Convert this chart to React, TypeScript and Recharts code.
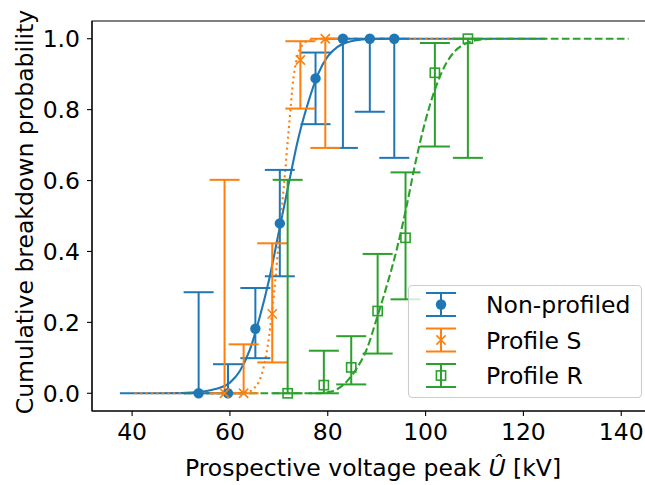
import {
  ComposedChart,
  ErrorBar,
  Legend,
  Line,
  ReferenceArea,
  Scatter,
  XAxis,
  YAxis,
} from "recharts";

const BLUE = "#1f77b4";
const ORANGE = "#ff7f0e";
const GREEN = "#2ca02c";
const FONT = "'DejaVu Sans', sans-serif";
const FS = 23.5;

// measured breakdown probabilities with confidence limits
const nonProfiledU = [53.6, 59.6, 65.2, 70.2, 77.5, 83.1, 88.6, 93.6];
const nonProfiledP = [0, 0, 0.182, 0.479, 0.888, 1, 1, 1];
const nonProfiledLo = [0, 0, 0.099, 0.33, 0.759, 0.692, 0.794, 0.664];
const nonProfiledHi = [0.285, 0.082, 0.297, 0.63, 0.961, 1, 1, 1];

const profileSU = [58.9, 62.8, 68.65, 74.4, 79.5];
const profileSP = [0, 0, 0.224, 0.94, 1];
const profileSLo = [0, 0, 0.087, 0.803, 0.692];
const profileSHi = [0.602, 0.138, 0.423, 0.993, 1];

const profileRU = [71.8, 79.2, 84.8, 90.2, 95.9, 101.9, 108.65];
const profileRP = [0, 0.023, 0.073, 0.232, 0.4385, 0.904, 1];
const profileRLo = [0, 0, 0.025, 0.112, 0.265, 0.696, 0.664];
const profileRHi = [0.602, 0.12, 0.161, 0.393, 0.623, 0.988, 1];

// fitted curves
const fitNonProfiledU = [37.5, 45, 50, 54, 57, 60, 62, 64, 66, 68, 70, 72, 74, 76, 78, 80, 82, 84, 86, 88, 92, 100, 124.5];
const fitNonProfiledP = [0, 0, 0.0005, 0.004, 0.012, 0.03, 0.062, 0.12, 0.21, 0.32, 0.455, 0.59, 0.72, 0.82, 0.9, 0.95, 0.977, 0.99, 0.996, 0.999, 1, 1, 1];

const fitProfileSU = [40.5, 55, 62, 64, 65, 66, 67, 68, 69, 70, 71, 72, 73, 74, 75, 76, 78, 80, 106];
const fitProfileSP = [0, 0, 0, 0.005, 0.015, 0.035, 0.08, 0.16, 0.28, 0.43, 0.58, 0.74, 0.89, 0.96, 0.985, 0.995, 0.999, 1, 1];

const fitProfileRU = [50.5, 70, 78, 80, 82, 84, 86, 88, 90, 92, 94, 96, 98, 100, 102, 104, 106, 108, 110, 114, 120, 141.5];
const fitProfileRP = [0, 0, 0, 0.003, 0.012, 0.035, 0.072, 0.125, 0.21, 0.3, 0.4, 0.52, 0.655, 0.77, 0.86, 0.925, 0.965, 0.985, 0.995, 1, 1, 1];

const xTicks = [40, 60, 80, 100, 120, 140];
const yTicks = [0, 0.2, 0.4, 0.6, 0.8, 1];
const xDomain = [31.8, 146.7];
const yDomain = [-0.05, 1.05];

const legendNames = ["Non-profiled", "Profile S", "Profile R"];

const toPoints = (u: number[], p: number[], lo: number[], hi: number[]) =>
  u.map((x, i) => ({ x, y: p[i], err: [p[i] - lo[i], hi[i] - p[i]] }));
const toCurve = (u: number[], p: number[]) => u.map((x, i) => ({ x, y: p[i] }));

const DotMark = ({ cx, cy }: any) => <circle cx={cx} cy={cy} r={5.2} fill={BLUE} />;
const CrossMark = ({ cx, cy }: any) => (
  <path
    d={`M${cx - 4.6},${cy - 4.6}L${cx + 4.6},${cy + 4.6}M${cx - 4.6},${cy + 4.6}L${cx + 4.6},${cy - 4.6}`}
    stroke={ORANGE}
    strokeWidth={1.6}
    fill="none"
  />
);
const BoxMark = ({ cx, cy }: any) => (
  <rect x={cx - 4.6} y={cy - 4.6} width={9.2} height={9.2} fill="none" stroke={GREEN} strokeWidth={1.6} />
);

function LegendBox() {
  const rows = [
    { color: BLUE, Mark: DotMark },
    { color: ORANGE, Mark: CrossMark },
    { color: GREEN, Mark: BoxMark },
  ];
  return (
    <svg width={237} height={116} style={{ display: "block" }}>
      <rect x={1.5} y={1.5} width={233} height={112} rx={4} fill="rgba(255,255,255,0.8)" stroke="#cccccc" strokeWidth={1.1} />
      {rows.map((r, i) => {
        const cy = 20.5 + i * 35.5;
        return (
          <g key={i}>
            <line x1={34} x2={34} y1={cy - 11.5} y2={cy + 11.5} stroke={r.color} strokeWidth={2} />
            <line x1={19} x2={49} y1={cy - 11.5} y2={cy - 11.5} stroke={r.color} strokeWidth={2} />
            <line x1={19} x2={49} y1={cy + 11.5} y2={cy + 11.5} stroke={r.color} strokeWidth={2} />
            <r.Mark cx={34} cy={cy} />
            <text x={79} y={cy + 8.5} fontSize={FS} fontFamily={FONT} fill="#000">
              {legendNames[i]}
            </text>
          </g>
        );
      })}
    </svg>
  );
}

function XTitle({ viewBox }: any) {
  const cx = viewBox.x + viewBox.width / 2;
  return (
    <text x={cx} y={viewBox.y + viewBox.height - 9} textAnchor="middle" fontSize={FS} fontFamily={FONT} fill="#000">
      Prospective voltage peak <tspan fontStyle="italic">Û</tspan> [kV]
    </text>
  );
}

function YTitle({ viewBox }: any) {
  const y = viewBox.y + viewBox.height / 2 - 4;
  return (
    <text x={33} y={y} transform={`rotate(-90, 33, ${y})`} textAnchor="middle" fontSize={FS} fontFamily={FONT} fill="#000">
      Cumulative breakdown probability
    </text>
  );
}

export default function App() {
  const tickStyle = { fill: "#000", fontSize: FS, fontFamily: FONT };
  return (
    <div style={{ position: "absolute", left: 0, top: 0, width: 645, height: 485, overflow: "hidden", background: "#fff" }}>
      <ComposedChart width={654} height={485} margin={{ top: 21, right: 0, bottom: 0, left: 0 }} style={{ fontFamily: FONT }}>
        <XAxis
          dataKey="x"
          type="number"
          domain={xDomain}
          ticks={xTicks}
          height={74}
          tickSize={5}
          tickMargin={7}
          tick={tickStyle}
          stroke="#000"
          strokeWidth={1.1}
          label={<XTitle />}
        />
        <YAxis
          type="number"
          domain={yDomain}
          ticks={yTicks}
          width={92}
          tickSize={5}
          tickMargin={7}
          tick={tickStyle}
          tickFormatter={(v: number) => v.toFixed(1)}
          stroke="#000"
          strokeWidth={1.1}
          label={<YTitle />}
        />
        <Line
          data={toCurve(fitNonProfiledU, fitNonProfiledP)}
          dataKey="y"
          type="monotone"
          stroke={BLUE}
          strokeWidth={2.1}
          dot={false}
          activeDot={false}
          legendType="none"
          isAnimationActive={false}
        />
        <Line
          data={toCurve(fitProfileSU, fitProfileSP)}
          dataKey="y"
          type="monotone"
          stroke={ORANGE}
          strokeWidth={2.1}
          strokeDasharray="2.1 3.4"
          dot={false}
          activeDot={false}
          legendType="none"
          isAnimationActive={false}
        />
        <Line
          data={toCurve(fitProfileRU, fitProfileRP)}
          dataKey="y"
          type="monotone"
          stroke={GREEN}
          strokeWidth={2.1}
          strokeDasharray="7.7 3.3"
          dot={false}
          activeDot={false}
          legendType="none"
          isAnimationActive={false}
        />
        <Scatter
          data={toPoints(nonProfiledU, nonProfiledP, nonProfiledLo, nonProfiledHi)}
          dataKey="y"
          shape={DotMark}
          isAnimationActive={false}
        >
          <ErrorBar dataKey="err" direction="y" width={15} stroke={BLUE} strokeWidth={2} />
        </Scatter>
        <Scatter
          data={toPoints(profileSU, profileSP, profileSLo, profileSHi)}
          dataKey="y"
          shape={CrossMark}
          isAnimationActive={false}
        >
          <ErrorBar dataKey="err" direction="y" width={15} stroke={ORANGE} strokeWidth={2} />
        </Scatter>
        <Scatter
          data={toPoints(profileRU, profileRP, profileRLo, profileRHi)}
          dataKey="y"
          shape={BoxMark}
          isAnimationActive={false}
        >
          <ErrorBar dataKey="err" direction="y" width={15} stroke={GREEN} strokeWidth={2} />
        </Scatter>
        <ReferenceArea
          x1={xDomain[0]}
          x2={xDomain[1]}
          y1={yDomain[0]}
          y2={yDomain[1]}
          fill="none"
          stroke="#000"
          strokeWidth={1.1}
        />
        <Legend
          layout="vertical"
          align="center"
          verticalAlign="middle"
          wrapperStyle={{ left: 407, top: 284, width: 237, height: 116 }}
          content={<LegendBox />}
        />
      </ComposedChart>
    </div>
  );
}
